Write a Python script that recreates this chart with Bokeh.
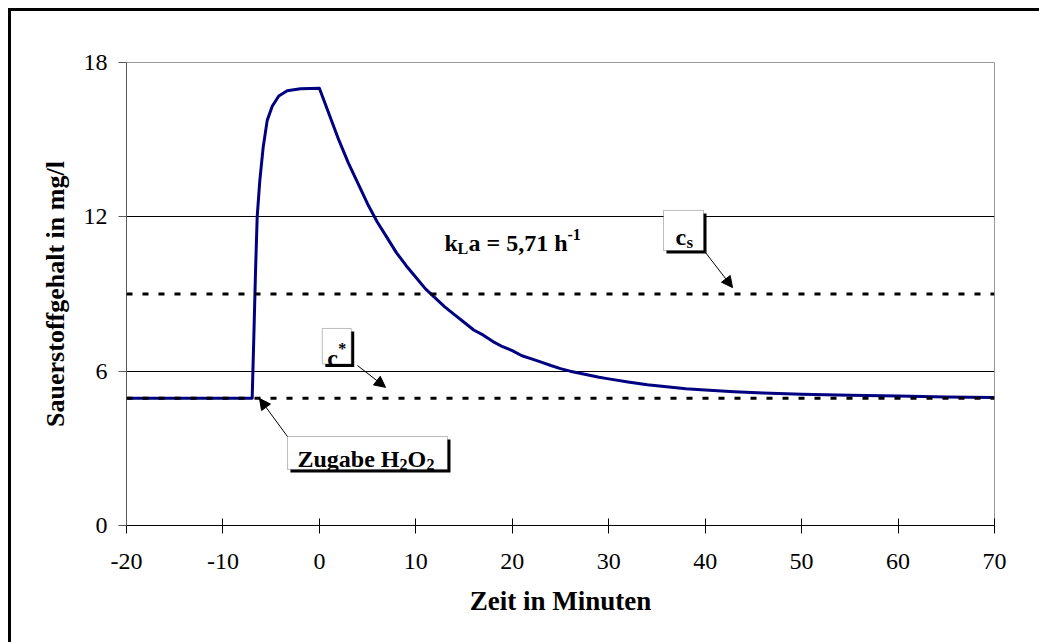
from bokeh.plotting import figure
from bokeh.models import (Range1d, FixedTicker, Label, BoxAnnotation, Arrow, NormalHead, Span,
                          GlobalInlineStyleSheet)
from bokeh.embed import file_html
from bokeh.resources import INLINE

# ---- data ----
time_min = [-20, -6.97, -6.80, -6.62, -6.45, -6.18, -5.83, -5.41, -4.89, -4.21, -3.34, -1.96, 0,
            1, 2, 3, 4, 5, 6, 7, 8, 9, 10, 11, 12, 13, 14, 15, 16, 17, 18, 19, 20,
            21, 22, 23, 24, 25, 26, 27, 28, 29, 30, 32, 34, 36, 38, 40, 43, 46, 50, 55, 60, 65, 70]
oxygen_mg_l = [4.95, 4.95, 7.3, 9.9, 12.0, 13.4, 14.7, 15.75, 16.3, 16.7, 16.9, 16.98, 17.0,
               16.0, 15.0, 14.1, 13.3, 12.5, 11.8, 11.2, 10.6, 10.1, 9.65, 9.2, 8.85, 8.5, 8.2, 7.9, 7.6, 7.4, 7.15, 6.95, 6.8,
               6.6, 6.48, 6.35, 6.22, 6.1, 6.0, 5.92, 5.84, 5.76, 5.7, 5.58, 5.47, 5.39, 5.32, 5.27, 5.2, 5.15, 5.1, 5.06,
               5.03, 5.0, 4.98]
c_star = 4.95
c_sat = 9.0
x_ticks = [-20, -10, 0, 10, 20, 30, 40, 50, 60, 70]
x_tick_labels = ["-20", "-10", "0", "10", "20", "30", "40", "50", "60", "70"]
y_ticks = [0, 6, 12, 18]
y_grid = [6, 12]

FONT = "Liberation Serif"
W, H = 1036, 636

p = figure(width=W, height=H, output_backend="svg", toolbar_location=None,
           x_range=Range1d(-20, 70), y_range=Range1d(0, 18),
           min_border_left=126, min_border_right=W - 994, min_border_top=62, min_border_bottom=H - 525)
# outer chart-area border (top and left edges only) painted on the page behind a transparent canvas
p.stylesheets = [GlobalInlineStyleSheet(css=(
    "html, body { overflow: hidden; } "
    "body { background: linear-gradient(#000, #000) 8px 8px / 3px 100% no-repeat, "
    "linear-gradient(#000, #000) 8px 8px / 100% 3px no-repeat, #fff; }"))]
p.background_fill_color = "white"
p.border_fill_color = "white"
p.border_fill_alpha = 0
p.outline_line_color = "#9a9a9a"
p.outline_line_width = 1

p.xgrid.visible = False
p.ygrid.ticker = FixedTicker(ticks=y_grid)
p.ygrid.grid_line_color = "black"
p.ygrid.grid_line_width = 1

p.xaxis.ticker = FixedTicker(ticks=x_ticks)
p.xaxis.major_label_overrides = dict(zip(x_ticks, x_tick_labels))
p.yaxis.ticker = FixedTicker(ticks=y_ticks)
for ax in (p.xaxis[0], p.yaxis[0]):
    ax.minor_tick_line_color = None
    ax.major_label_text_font = FONT
    ax.major_label_text_font_size = "24px"
    ax.major_label_text_color = "black"
    ax.axis_label_text_font = FONT
    ax.axis_label_text_font_style = "bold"
    ax.axis_label_text_color = "black"

xa = p.xaxis[0]
xa.axis_label = "Zeit in Minuten"
xa.axis_label_text_font_size = "27px"
xa.axis_line_color = "black"
xa.major_tick_line_color = "black"
xa.major_tick_in = 7
xa.major_tick_out = 8
xa.major_label_standoff = 20
xa.axis_label_standoff = 14

ya = p.yaxis[0]
ya.axis_label = "Sauerstoffgehalt in mg/l"
ya.axis_label_text_font_size = "26px"
ya.axis_line_color = "#595959"
ya.major_tick_line_color = "#595959"
ya.major_tick_in = 0
ya.major_tick_out = 8
ya.major_label_standoff = 11
ya.axis_label_standoff = 11

p.line(time_min, oxygen_mg_l, line_color="#000080", line_width=3, line_join="round")

for lvl in (c_sat, c_star):
    p.add_layout(Span(location=lvl, dimension="width", line_color="black",
                      line_width=3, line_dash="6 10"))

# ---- annotation boxes (with drop shadow) ----
SDX = 3 * 90 / 868
SDY = 3 * 18 / 463


def framed_box(left, right, bottom, top):
    p.add_layout(BoxAnnotation(left=left + SDX, right=right + SDX, bottom=bottom - SDY, top=top - SDY,
                               fill_color="black", fill_alpha=1, line_color=None))
    p.add_layout(BoxAnnotation(left=left, right=right, bottom=bottom, top=top,
                               fill_color="white", fill_alpha=1, line_color="#222222", line_width=1))


def txt(x, y, text, dx=0, dy=0, size=24):
    p.add_layout(Label(x=x, y=y, x_offset=dx, y_offset=dy, text=text, text_font=FONT,
                       text_font_size=f"{size}px", text_font_style="bold", text_color="black",
                       text_align="left", text_baseline="alphabetic"))


def arrow(x0, y0, x1, y1):
    p.add_layout(Arrow(end=NormalHead(size=11, fill_color="black", line_color="black"),
                       x_start=x0, y_start=y0, x_end=x1, y_end=y1,
                       line_color="black", line_width=1))


# c_s
framed_box(35.68, 39.83, 10.69, 12.25)
txt(36.93, 11.2, "c")
txt(36.93, 11.2, "s", dx=11, dy=-5, size=17)
arrow(40.04, 10.61, 42.84, 9.25)

# c*
framed_box(0.3, 3.3, 6.28, 7.66)
txt(0.81, 6.53, "c")
txt(0.81, 6.53, "*", dx=11, dy=9, size=16)
arrow(3.95, 6.22, 6.86, 5.37)

# Zugabe H2O2
framed_box(-3.31, 13.28, 2.18, 3.46)
txt(-2.27, 2.57, "Zugabe H")
txt(-2.27, 2.57, "2", dx=102, dy=-5, size=16)
txt(-2.27, 2.57, "O", dx=110)
txt(-2.27, 2.57, "2", dx=129, dy=-5, size=16)
arrow(-3.31, 3.46, -6.21, 4.94)

# kLa
txt(12.97, 10.97, "k")
txt(12.97, 10.97, "L", dx=13, dy=-5, size=16)
txt(12.97, 10.97, "a = 5,71 h", dx=24)
txt(12.97, 10.97, "-1", dx=123, dy=9, size=16)

open("out.html", "w").write(file_html(p, INLINE))
